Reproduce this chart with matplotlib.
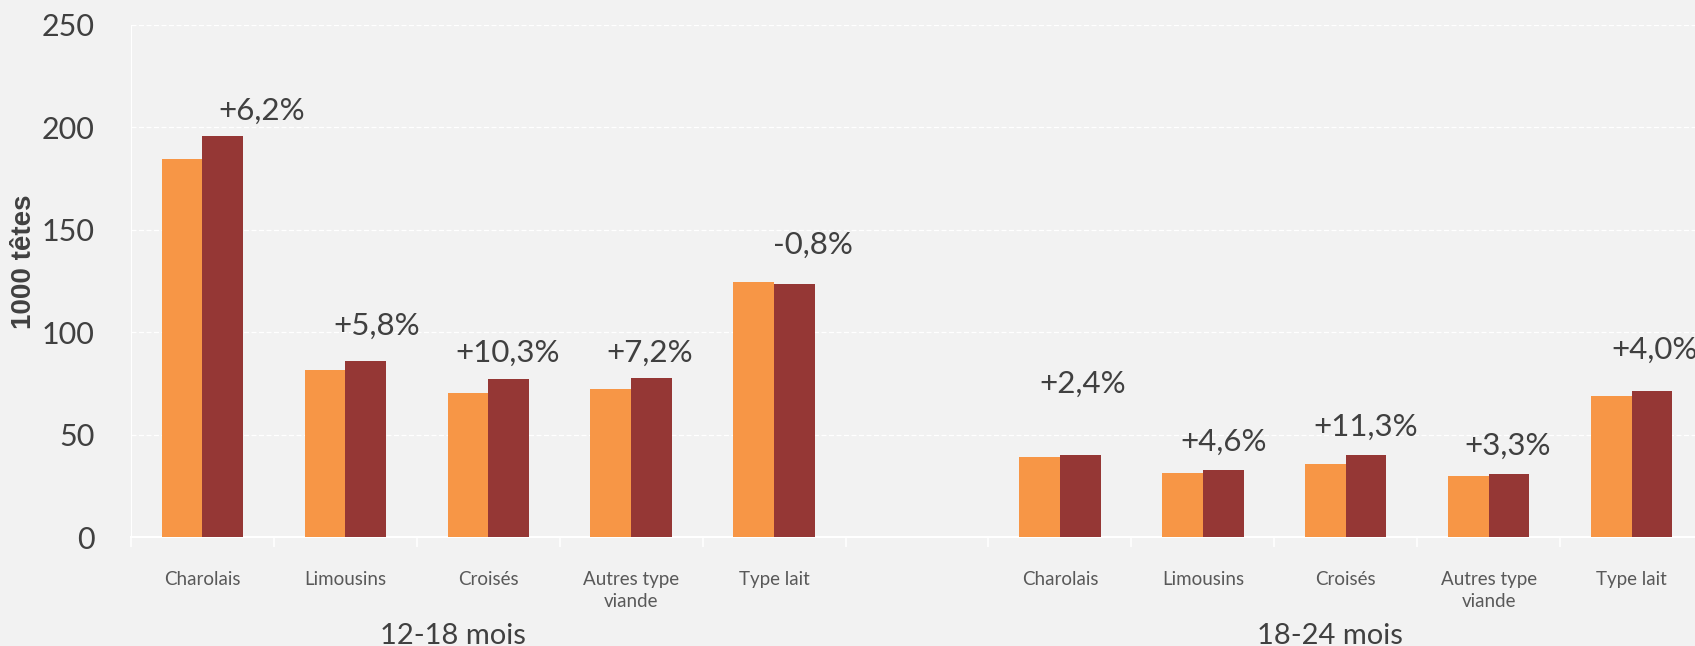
import matplotlib
matplotlib.use("Agg")
import matplotlib.pyplot as plt
import numpy as np

# ---- data ----
categories = ["Charolais", "Limousins", "Croisés", "Autres type\nviande", "Type lait"]
groups = ["12-18 mois", "18-24 mois"]
values_prev_1218 = [184.5, 81.5, 70.2, 72.3, 124.5]
values_curr_1218 = [196.0, 86.2, 77.4, 77.5, 123.5]
values_prev_1824 = [39.3, 31.5, 36.0, 30.0, 68.8]
values_curr_1824 = [40.2, 33.0, 40.1, 31.0, 71.6]
pct_labels_1218 = ["+6,2%", "+5,8%", "+10,3%", "+7,2%", "-0,8%"]
pct_labels_1824 = ["+2,4%", "+4,6%", "+11,3%", "+3,3%", "+4,0%"]
yticks = [0, 50, 100, 150, 200, 250]

# ---- label placement (style) ----
label_dx_1218 = [0.27, 0.08, -0.01, -0.01, 0.13]
label_dy_1218 = [12, 17, 12.6, 12.5, 19]
label_dx_1824 = [0.02, 0.0, 0.0, -0.01, 0.02]
label_dy_1824 = [34.5, 13.8, 13.6, 13.7, 20]

BG = "#F2F2F2"
ORANGE = "#F79646"
DARK = "#953735"
TXT = "#404040"
CAT = "#595959"
FONT = ["Lato", "DejaVu Sans"]

fig = plt.figure(figsize=(16.95, 6.46), dpi=100, facecolor=BG)
ax = fig.add_axes([131 / 1695, 108.7 / 646, (1703 - 131) / 1695, 512.4 / 646])
ax.set_facecolor(BG)

n = len(categories)
x1 = np.arange(n)
x2 = np.arange(n) + n + 1
bw = 0.285

ax.bar(x1 - bw / 2, values_prev_1218, bw, color=ORANGE, zorder=3)
ax.bar(x1 + bw / 2, values_curr_1218, bw, color=DARK, zorder=3)
ax.bar(x2 - bw / 2, values_prev_1824, bw, color=ORANGE, zorder=3)
ax.bar(x2 + bw / 2, values_curr_1824, bw, color=DARK, zorder=3)

pfont = dict(fontsize=22.5, color=TXT, family=FONT, ha="center", va="center")
for i in range(n):
    ax.text(x1[i] + bw / 2 + label_dx_1218[i], values_curr_1218[i] + label_dy_1218[i],
            pct_labels_1218[i], **pfont)
    ax.text(x2[i] + bw / 2 + label_dx_1824[i], values_curr_1824[i] + label_dy_1824[i],
            pct_labels_1824[i], **pfont)

ax.set_xlim(-0.5, 2 * n + 0.5)
ax.set_ylim(0, 250)
ax.set_yticks(yticks)
ax.set_yticklabels([str(v) for v in yticks], fontsize=22, color=TXT, family=FONT)
ax.tick_params(axis="y", length=0, pad=26)

allx = list(x1) + list(x2)
ax.set_xticks(allx)
ax.set_xticklabels(categories + categories, fontsize=13.5, color=CAT,
                   family=FONT, va="top", linespacing=1.35)
ax.tick_params(axis="x", length=0, pad=24)
ax.set_xticks(np.arange(-0.5, 2 * n + 1, 1.0), minor=True)
ax.tick_params(axis="x", which="minor", length=7, color="white", width=1.2)

ax.grid(axis="y", color="white", linestyle=(0, (4, 2)), linewidth=0.9, zorder=0)
for s in ["top", "right"]:
    ax.spines[s].set_visible(False)
ax.spines["bottom"].set_color("white")
ax.spines["bottom"].set_linewidth(1.5)
ax.spines["left"].set_color("white")
ax.spines["left"].set_linewidth(0.8)

ax.set_ylabel("1000 têtes", fontsize=20, fontweight="bold", color=TXT,
              family=["Liberation Sans", "DejaVu Sans"], va="center")
ax.yaxis.set_label_coords((24 - 131) / 1572, (537.3 - 262) / 512.4)

gy = -(636 - 537.3) / 512.4
gfont = dict(fontsize=21, color=TXT, family=FONT, ha="center", va="center")
ax.text(x1.mean() - 0.25, gy, groups[0], transform=ax.get_xaxis_transform(), **gfont)
ax.text(x2.mean() - 0.11, gy, groups[1], transform=ax.get_xaxis_transform(), **gfont)

fig.savefig("out.png", dpi=100, facecolor=BG)
